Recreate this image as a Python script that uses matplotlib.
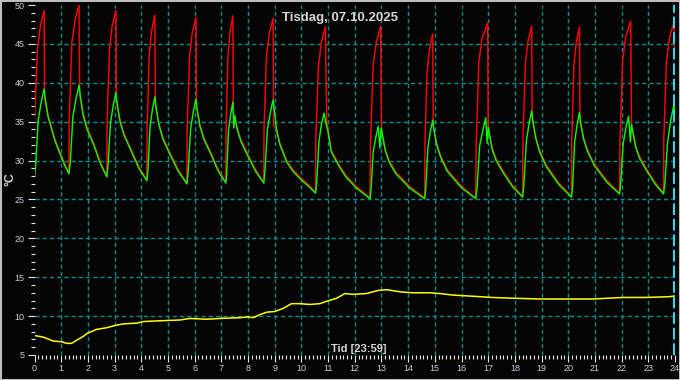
import matplotlib
matplotlib.use("Agg")
import matplotlib.pyplot as plt
from matplotlib.patches import Rectangle
from matplotlib.ticker import MultipleLocator, FixedLocator

# collector / tank temperatures, one line per heating cycle (hours, degC)
red_t = [0.00, 0.11, 0.22, 0.36, 0.38, 0.51, 0.58, 0.76, 0.94, 1.13, 1.29,
         1.30, 1.40, 1.52, 1.67, 1.69, 1.82, 1.97, 2.22, 2.47, 2.71,
         2.72, 2.81, 2.91, 3.05, 3.07, 3.20, 3.35, 3.60, 3.91, 4.21,
         4.22, 4.30, 4.39, 4.51, 4.53, 4.66, 4.81, 5.06, 5.39, 5.71,
         5.72, 5.81, 5.91, 6.05, 6.07, 6.20, 6.35, 6.60, 6.89, 7.17,
         7.18, 7.25, 7.33, 7.43, 7.45, 7.58, 7.73, 7.98, 8.29, 8.59,
         8.60, 8.69, 8.80, 8.94, 8.96, 9.08, 9.20, 9.45, 9.69, 10.00, 10.30, 10.53,
         10.54, 10.64, 10.75, 10.90, 10.95, 11.00, 11.12, 11.44, 11.69, 12.05, 12.57,
         12.59, 12.69, 12.81, 12.97, 13.00, 13.14, 13.29, 13.54, 14.08, 14.62,
         14.63, 14.71, 14.80, 14.92, 14.94, 15.07, 15.22, 15.47, 16.00, 16.53,
         16.55, 16.65, 16.77, 16.98, 17.00, 17.15, 17.30, 17.55, 17.92, 18.29,
         18.30, 18.39, 18.49, 18.63, 18.65, 18.78, 18.93, 19.18, 19.65, 20.12,
         20.13, 20.21, 20.30, 20.42, 20.44, 20.57, 20.72, 20.97, 21.45, 21.92,
         21.94, 22.04, 22.15, 22.34, 22.37, 22.52, 22.67, 22.92, 23.25, 23.57,
         23.58, 23.68, 23.80, 23.96, 23.98]
red_v = [35.2, 44.3, 47.3, 49.3, 37.9, 35.8, 35.0, 32.8, 31.2, 29.6, 28.4,
         35.3, 45.1, 48.1, 50.1, 38.4, 36.1, 34.2, 32.2, 29.8, 28.0,
         34.9, 44.3, 47.3, 49.3, 37.5, 35.3, 33.5, 31.6, 29.2, 27.5,
         34.4, 43.7, 46.7, 48.7, 37.0, 34.8, 33.0, 31.1, 28.8, 27.1,
         34.0, 43.4, 46.4, 48.4, 36.7, 34.6, 32.9, 31.1, 28.8, 27.2,
         34.1, 43.6, 46.6, 48.6, 36.3, 34.4, 32.7, 30.9, 28.8, 27.2,
         34.1, 43.3, 46.3, 48.3, 34.5, 33.9, 32.2, 30.0, 28.8, 27.7, 26.8, 25.9,
         32.8, 42.2, 45.2, 47.2, 35.0, 34.0, 31.3, 29.3, 28.0, 26.7, 25.2,
         32.1, 42.3, 45.3, 47.3, 34.0, 31.5, 30.0, 28.5, 26.6, 25.2,
         32.1, 41.3, 44.3, 46.3, 34.2, 32.2, 30.6, 28.8, 26.7, 25.2,
         32.1, 42.7, 45.7, 47.7, 34.3, 31.6, 30.2, 28.7, 26.8, 25.4,
         32.3, 42.3, 45.3, 47.3, 35.2, 33.1, 31.3, 29.4, 27.1, 25.4,
         32.3, 42.2, 45.2, 47.2, 35.0, 33.0, 31.4, 29.6, 27.4, 25.8,
         32.7, 42.9, 45.9, 47.9, 34.8, 32.0, 30.5, 29.0, 27.2, 25.8,
         32.7, 42.8, 45.8, 47.8, 44.2]

green_t = [0.00, 0.04, 0.14, 0.25, 0.36, 0.40, 0.51, 0.58, 0.76, 0.94, 1.13, 1.29,
           1.34, 1.44, 1.56, 1.67, 1.71, 1.82, 1.97, 2.22, 2.47, 2.71,
           2.75, 2.85, 2.95, 3.05, 3.09, 3.20, 3.35, 3.60, 3.91, 4.21,
           4.25, 4.33, 4.42, 4.51, 4.55, 4.66, 4.81, 5.06, 5.39, 5.71,
           5.75, 5.85, 5.95, 6.05, 6.09, 6.20, 6.35, 6.60, 6.89, 7.17,
           7.20, 7.27, 7.35, 7.43, 7.47, 7.51, 7.58, 7.73, 7.98, 8.29, 8.59,
           8.63, 8.73, 8.84, 8.94, 9.08, 9.20, 9.45, 9.69, 10.00, 10.30, 10.53,
           10.57, 10.66, 10.75, 10.85, 10.92, 11.00, 11.12, 11.44, 11.69, 12.05, 12.57,
           12.61, 12.69, 12.79, 12.88, 12.94, 12.99, 13.14, 13.29, 13.54, 14.08, 14.62,
           14.66, 14.74, 14.83, 14.92, 14.96, 15.07, 15.22, 15.47, 16.00, 16.53,
           16.58, 16.68, 16.80, 16.91, 16.96, 17.00, 17.15, 17.30, 17.55, 17.92, 18.29,
           18.33, 18.43, 18.53, 18.63, 18.67, 18.78, 18.93, 19.18, 19.65, 20.12,
           20.16, 20.24, 20.33, 20.42, 20.46, 20.57, 20.72, 20.97, 21.45, 21.92,
           21.96, 22.06, 22.16, 22.26, 22.33, 22.37, 22.52, 22.67, 22.92, 23.25, 23.57,
           23.62, 23.72, 23.84, 23.96, 23.98]
green_v = [27.9, 29.3, 35.2, 37.5, 39.2, 38.0, 35.6, 34.8, 32.6, 31.0, 29.4, 28.3,
           29.7, 35.7, 38.0, 39.7, 38.5, 35.9, 34.0, 32.0, 29.6, 27.9,
           29.2, 34.9, 37.1, 38.7, 37.5, 35.1, 33.3, 31.4, 29.0, 27.4,
           28.7, 34.4, 36.6, 38.2, 37.0, 34.6, 32.8, 30.9, 28.6, 27.0,
           28.3, 34.1, 36.3, 37.9, 36.7, 34.4, 32.7, 30.9, 28.6, 27.1,
           28.3, 33.9, 35.9, 37.5, 34.2, 35.8, 34.2, 32.5, 30.7, 28.6, 27.1,
           28.4, 34.1, 36.2, 37.8, 33.7, 32.0, 29.8, 28.6, 27.5, 26.6, 25.8,
           27.0, 32.5, 34.6, 36.1, 34.8, 33.7, 31.1, 29.1, 27.8, 26.5, 25.1,
           26.2, 31.1, 33.0, 34.4, 31.6, 34.2, 31.3, 29.8, 28.3, 26.4, 25.1,
           26.3, 31.7, 33.7, 35.2, 34.2, 32.0, 30.4, 28.6, 26.5, 25.1,
           26.3, 31.9, 33.9, 35.5, 32.2, 34.3, 31.4, 30.0, 28.5, 26.6, 25.3,
           26.6, 32.5, 34.7, 36.4, 35.2, 32.9, 31.1, 29.2, 26.9, 25.3,
           26.6, 32.4, 34.6, 36.2, 35.0, 32.8, 31.2, 29.4, 27.2, 25.7,
           26.9, 32.2, 34.2, 35.7, 32.4, 34.6, 31.8, 30.3, 28.8, 27.0, 25.7,
           27.0, 32.3, 35.2, 37.2, 36.4]

# outdoor temperature
out_t = [0.00, 0.33, 0.70, 1.02, 1.20, 1.39, 1.58, 1.83, 1.98, 2.33,
         2.70, 3.02, 3.33, 3.83, 4.08, 4.70, 5.45, 5.82, 6.45, 6.95,
         7.70, 8.00, 8.20, 8.45, 8.70, 9.01, 9.32, 9.63, 9.94, 10.32,
         10.69, 10.94, 11.32, 11.63, 11.94, 12.44, 12.88, 13.19, 13.75, 14.19,
         14.81, 15.19, 15.69, 16.19, 16.69, 17.12, 17.93, 18.93, 19.93, 20.93,
         22.05, 22.93, 23.80, 24.00]
out_v = [7.5, 7.3, 6.8, 6.7, 6.5, 6.5, 6.9, 7.4, 7.8, 8.3,
         8.5, 8.8, 9.0, 9.1, 9.3, 9.4, 9.5, 9.7, 9.6, 9.7,
         9.8, 9.9, 9.8, 10.2, 10.5, 10.6, 11.0, 11.6, 11.6, 11.5,
         11.6, 11.9, 12.3, 12.9, 12.8, 12.9, 13.3, 13.4, 13.1, 13.0,
         13.0, 12.9, 12.7, 12.6, 12.5, 12.4, 12.3, 12.2, 12.2, 12.2,
         12.4, 12.4, 12.5, 12.6]

title = "Tisdag, 07.10.2025"
xlabel = "Tid [23:59]"
ylabel = "°C"
now_hour = 24

plt.rcParams['font.family'] = ['Liberation Sans', 'DejaVu Sans']

W, H = 680, 380
fig = plt.figure(figsize=(W / 100, H / 100), dpi=100, facecolor='#040404')
ax = fig.add_axes([34.5 / W, 25 / H, 640.5 / W, 350 / H])
ax.set_facecolor('#040404')

ax.set_xlim(0, 24)
ax.set_ylim(5, 50)

grid_col = '#0b8c8c'
for h in range(1, 24):
    ax.axvline(h, color=grid_col, lw=1.0, dashes=(3, 2.2), zorder=1)
for v in range(10, 50, 5):
    ax.axhline(v, color=grid_col, lw=1.0, dashes=(3, 2.2), zorder=1)
ax.axvline(now_hour - 0.02, color='#22e4f4', lw=1.4, dashes=(6, 2), zorder=4)

ax.plot(out_t, out_v, color='#ffff00', lw=1.1, zorder=3)
ax.plot(red_t, red_v, color='#ff0000', lw=1.05, zorder=2)
ax.plot(green_t, green_v, color='#00ff00', lw=1.0, zorder=3)

for s in ax.spines.values():
    s.set_visible(False)

ax.xaxis.set_major_locator(MultipleLocator(1))
ax.xaxis.set_minor_locator(FixedLocator([h + k / 7 for h in range(24) for k in range(1, 7)]))
ax.yaxis.set_major_locator(MultipleLocator(5))
ax.yaxis.set_minor_locator(MultipleLocator(1))

tick_col = '#e6e6e6'
lab_col = '#c8d0dc'
ax.tick_params(axis='x', which='major', length=5, width=0.8, color=tick_col,
               labelcolor=lab_col, labelsize=6.5, pad=1.5)
ax.tick_params(axis='x', which='minor', length=3, width=0.8, color=tick_col)
ax.tick_params(axis='y', which='major', length=5, width=0.8, color=tick_col,
               labelcolor=lab_col, labelsize=6.5, pad=2)
ax.tick_params(axis='y', which='minor', length=2.6, width=0.8, color=tick_col)

fig.text(340 / W, 1 - 18 / H, title, ha='center', va='center', fontsize=9.5,
         fontweight='bold', color='#d6d6d6')
fig.text(359 / W, 1 - 349 / H, xlabel, ha='center', va='center', fontsize=8,
         fontweight='bold', color='#d6d6d6')
fig.text(10 / W, 1 - 179 / H, ylabel, ha='center', va='center', fontsize=9,
         fontweight='bold', color='#d6d6d6', rotation=90)

fig.patches.append(Rectangle((0, 0), 1, 1, transform=fig.transFigure, fill=False,
                             edgecolor='#bdbdbd', lw=2.2, zorder=10))

fig.savefig('out.png', dpi=100, facecolor=fig.get_facecolor())
